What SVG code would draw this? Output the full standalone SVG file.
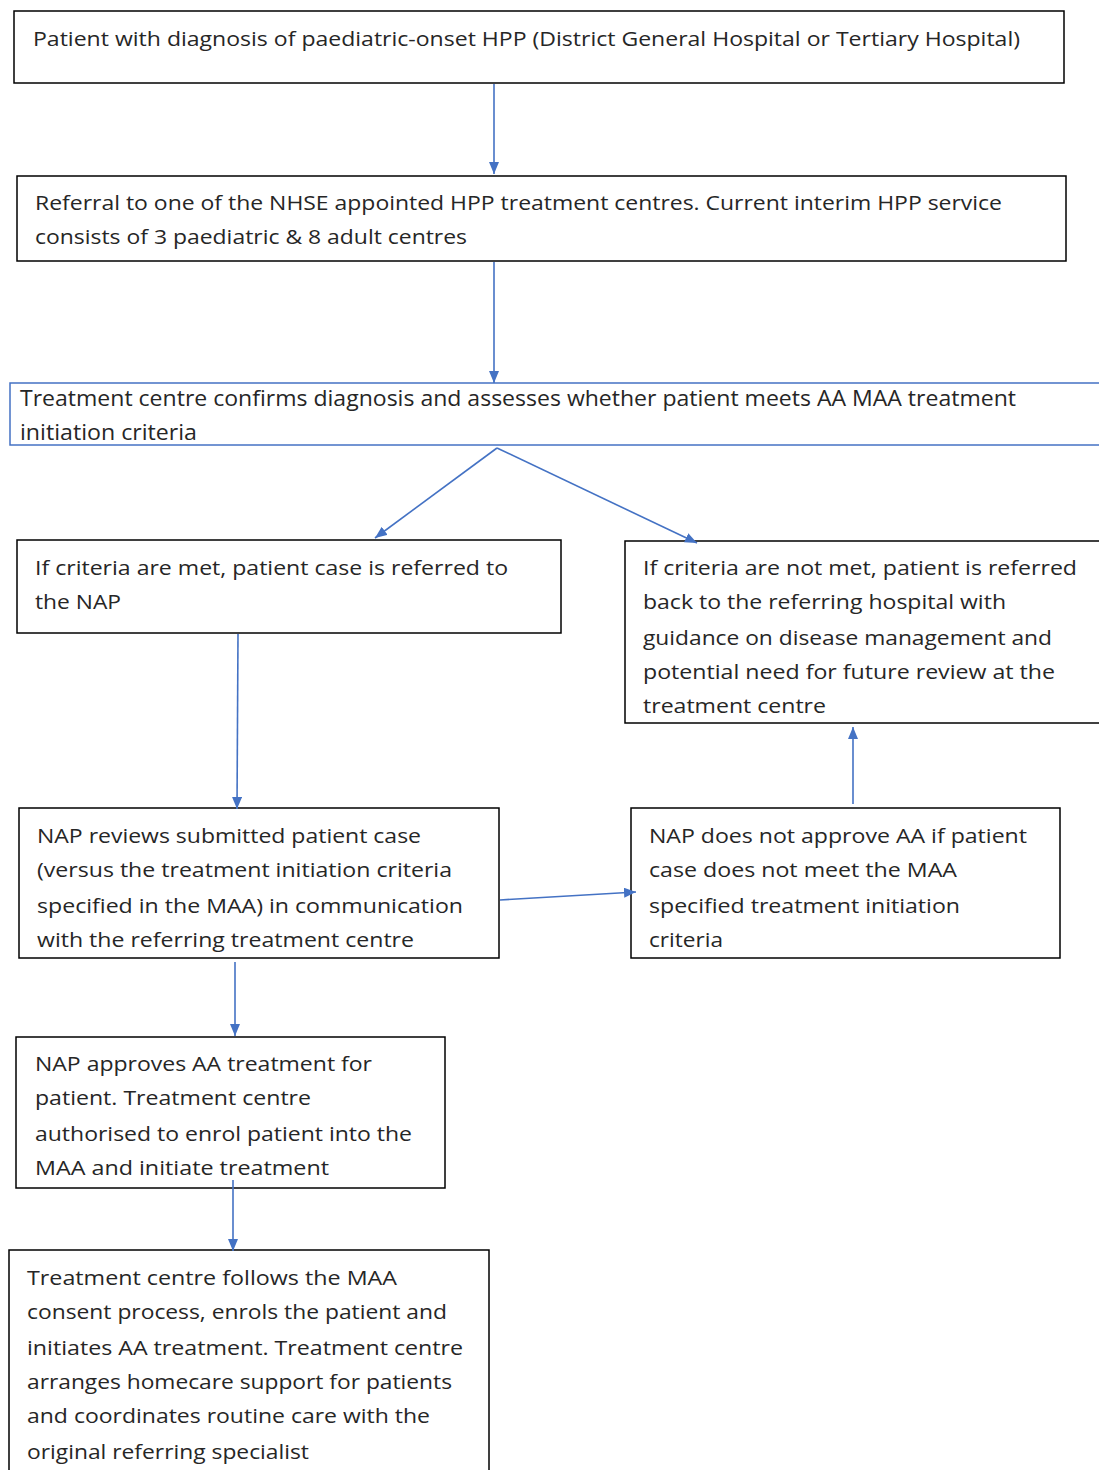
<svg xmlns="http://www.w3.org/2000/svg" width="1099" height="1470" viewBox="0 0 1099 1470">
<style>
.box{fill:#fff;stroke:#000;stroke-width:1.5}
.bbox{fill:#fff;stroke:#4472C4;stroke-width:1.5}
.t{font-family:"Open Sans","Noto Sans",sans-serif;font-size:20px;fill:#262626}
.tn{font-family:"Open Sans","Noto Sans",sans-serif;font-size:21px;fill:#262626}
.c{stroke:#4472C4;stroke-width:1.6;fill:none;marker-end:url(#ah)}
</style>
<defs>
<marker id="ah" viewBox="0 0 12 10" refX="12" refY="5" markerWidth="12" markerHeight="10" markerUnits="userSpaceOnUse" orient="auto">
<path d="M0,0 L12,5 L0,10 Z" fill="#4472C4"/>
</marker>
</defs>
<rect width="1099" height="1470" fill="#fff"/>
<g id="n1">
<rect class="box" x="14" y="11" width="1050" height="72"/>
<text class="t" x="33" y="46" textLength="987" lengthAdjust="spacingAndGlyphs">Patient with diagnosis of paediatric-onset HPP (District General Hospital or Tertiary Hospital)</text>
</g>
<g id="n2">
<rect class="box" x="17" y="176" width="1049" height="85"/>
<text class="t" x="35" y="210" textLength="967" lengthAdjust="spacingAndGlyphs">Referral to one of the NHSE appointed HPP treatment centres. Current interim HPP service</text>
<text class="t" x="35" y="244" textLength="432" lengthAdjust="spacingAndGlyphs">consists of 3 paediatric &amp; 8 adult centres</text>
</g>
<g id="n3">
<rect class="bbox" x="10" y="383" width="1100" height="62"/>
<text class="tn" x="20" y="406" textLength="996" lengthAdjust="spacingAndGlyphs">Treatment centre confirms diagnosis and assesses whether patient meets AA MAA treatment</text>
<text class="tn" x="20" y="440" textLength="177" lengthAdjust="spacingAndGlyphs">initiation criteria</text>
</g>
<g id="n4">
<rect class="box" x="17" y="540" width="544" height="93"/>
<text class="t" x="35" y="575" textLength="473" lengthAdjust="spacingAndGlyphs">If criteria are met, patient case is referred to</text>
<text class="t" x="35" y="609" textLength="86" lengthAdjust="spacingAndGlyphs">the NAP</text>
</g>
<g id="n5">
<rect class="box" x="625" y="541" width="485" height="182"/>
<text class="t" x="643" y="575" textLength="434" lengthAdjust="spacingAndGlyphs">If criteria are not met, patient is referred</text>
<text class="t" x="643" y="609" textLength="363" lengthAdjust="spacingAndGlyphs">back to the referring hospital with</text>
<text class="t" x="643" y="645" textLength="409" lengthAdjust="spacingAndGlyphs">guidance on disease management and</text>
<text class="t" x="643" y="679" textLength="412" lengthAdjust="spacingAndGlyphs">potential need for future review at the</text>
<text class="t" x="643" y="713" textLength="183" lengthAdjust="spacingAndGlyphs">treatment centre</text>
</g>
<g id="n6">
<rect class="box" x="19" y="808" width="480" height="150"/>
<text class="t" x="37" y="843" textLength="384" lengthAdjust="spacingAndGlyphs">NAP reviews submitted patient case</text>
<text class="t" x="37" y="877" textLength="415" lengthAdjust="spacingAndGlyphs">(versus the treatment initiation criteria</text>
<text class="t" x="37" y="913" textLength="426" lengthAdjust="spacingAndGlyphs">specified in the MAA) in communication</text>
<text class="t" x="37" y="947" textLength="377" lengthAdjust="spacingAndGlyphs">with the referring treatment centre</text>
</g>
<g id="n7">
<rect class="box" x="631" y="808" width="429" height="150"/>
<text class="t" x="649" y="843" textLength="378" lengthAdjust="spacingAndGlyphs">NAP does not approve AA if patient</text>
<text class="t" x="649" y="877" textLength="308" lengthAdjust="spacingAndGlyphs">case does not meet the MAA</text>
<text class="t" x="649" y="913" textLength="311" lengthAdjust="spacingAndGlyphs">specified treatment initiation</text>
<text class="t" x="649" y="947" textLength="74" lengthAdjust="spacingAndGlyphs">criteria</text>
</g>
<g id="n8">
<rect class="box" x="16" y="1037" width="429" height="151"/>
<text class="t" x="35" y="1071" textLength="337" lengthAdjust="spacingAndGlyphs">NAP approves AA treatment for</text>
<text class="t" x="35" y="1105" textLength="276" lengthAdjust="spacingAndGlyphs">patient. Treatment centre</text>
<text class="t" x="35" y="1141" textLength="377" lengthAdjust="spacingAndGlyphs">authorised to enrol patient into the</text>
<text class="t" x="35" y="1175" textLength="294" lengthAdjust="spacingAndGlyphs">MAA and initiate treatment</text>
</g>
<g id="n9">
<rect class="box" x="9" y="1250" width="480" height="240"/>
<text class="t" x="27" y="1285" textLength="370" lengthAdjust="spacingAndGlyphs">Treatment centre follows the MAA</text>
<text class="t" x="27" y="1319" textLength="420" lengthAdjust="spacingAndGlyphs">consent process, enrols the patient and</text>
<text class="t" x="27" y="1355" textLength="436" lengthAdjust="spacingAndGlyphs">initiates AA treatment. Treatment centre</text>
<text class="t" x="27" y="1389" textLength="425" lengthAdjust="spacingAndGlyphs">arranges homecare support for patients</text>
<text class="t" x="27" y="1423" textLength="403" lengthAdjust="spacingAndGlyphs">and coordinates routine care with the</text>
<text class="t" x="27" y="1459" textLength="282" lengthAdjust="spacingAndGlyphs">original referring specialist</text>
</g>
<g id="connectors">
<line class="c" x1="494" y1="84" x2="494" y2="174"/>
<line class="c" x1="494" y1="262" x2="494" y2="383"/>
<line class="c" x1="497" y1="448" x2="375" y2="538"/>
<line class="c" x1="497" y1="448" x2="697" y2="543"/>
<line class="c" x1="238" y1="634" x2="237" y2="809"/>
<line class="c" x1="500" y1="900" x2="636" y2="892"/>
<line class="c" x1="853" y1="804" x2="853" y2="727"/>
<line class="c" x1="235" y1="962" x2="235" y2="1036"/>
<line class="c" x1="233" y1="1180" x2="233" y2="1251"/>
</g>
</svg>
